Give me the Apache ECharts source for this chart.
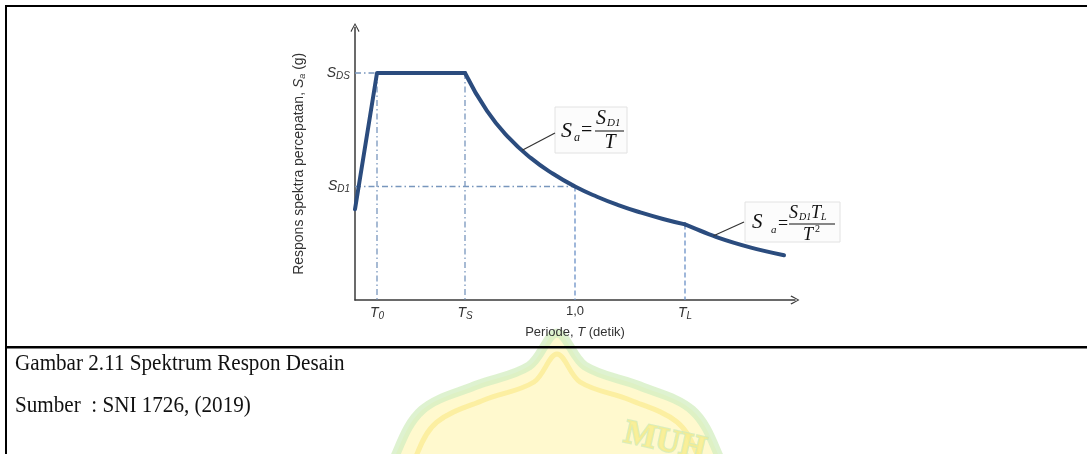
<!DOCTYPE html>
<html>
<head>
<meta charset="utf-8">
<script src="https://cdn.jsdelivr.net/npm/echarts@6/dist/echarts.min.js"></script>
<style>
html,body{margin:0;padding:0;background:#fff;}
#chart{width:1087px;height:454px;}
</style>
</head>
<body>
<div id="chart"></div>
<script>
// ---- data ----
const rampPeriods = [0, 0.1, 0.5];
const rampValues = [0.4, 1.0, 1.0];
const velocityPeriods = [0.5, 0.6, 0.7, 0.8, 0.9, 1.0, 1.1, 1.2, 1.3, 1.4, 1.5];
const velocityValues = [1.0, 0.833, 0.714, 0.625, 0.556, 0.5, 0.455, 0.417, 0.385, 0.357, 0.333];
const longPeriods = [1.5, 1.65, 1.8, 1.95];
const longValues = [0.333, 0.275, 0.231, 0.197];
const xTickValues = [0.1, 0.5, 1.0, 1.5];
const xTickLabels = ['{t|T}{s|0}', '{t|T}{s|S}', '{n|1,0}', '{t|T}{s|L}'];
const yTickValues = [0.5, 1.0];
const yTickLabels = ['{t|S}{s|D1}', '{t|S}{s|DS}'];
const T0 = 0.1, TS = 0.5, T1 = 1.0, TL = 1.5;
const SDS = 1.0, SD1 = 0.5, SaTL = 0.333;
const captionLines = ['Gambar 2.11 Spektrum Respon Desain', 'Sumber  : SNI 1726, (2019)'];

const chart = echarts.init(document.getElementById('chart'), null, {renderer: 'canvas'});
const chevron = 'path://M0,9 L5,0 L10,9 L9,10 L5,2 L1,10 Z';
const dashDot = [6, 3, 1.5, 3];
const guideColor = '#7896bd';
const dashColor = '#6a90c6';
const curveColor = '#2b4c7e';
const sans = 'Liberation Sans';

function guide(pts, type, color) {
  return {type: 'line', data: pts, symbol: 'none', silent: true, z: 2,
    lineStyle: {color: color, width: 1.3, type: type}};
}
function branch(xs, ys, smooth) {
  return {type: 'line', z: 5, symbol: 'none', smooth: smooth,
    data: xs.map((t, i) => [t, ys[i]]),
    lineStyle: {color: curveColor, width: 4, join: 'round', cap: 'round'}};
}

const option = {
  animation: false,
  backgroundColor: '#fff',
  grid: {left: 355, right: 292, top: 27.6, bottom: 154, containLabel: false},
  xAxis: {
    type: 'value', min: 0, max: 2.0,
    name: '{n|Periode, }{i|T}{n| (detik)}', nameLocation: 'middle', nameGap: 19,
    nameTextStyle: {rich: {
      n: {fontFamily: sans, fontSize: 13, color: '#333'},
      i: {fontFamily: sans, fontStyle: 'italic', fontSize: 13, color: '#333'}}},
    axisLine: {show: true, symbol: ['none', chevron], symbolSize: [9, 10],
      lineStyle: {color: '#3a3a3a', width: 1.5}},
    axisTick: {show: false},
    splitLine: {show: false},
    axisLabel: {
      customValues: xTickValues, margin: 5,
      formatter: function (v) { return xTickLabels[xTickValues.indexOf(v)] || ''; },
      rich: {
        t: {fontFamily: sans, fontStyle: 'italic', fontSize: 14, color: '#333'},
        s: {fontFamily: sans, fontStyle: 'italic', fontSize: 10, color: '#333', padding: [6, 0, 0, 0]},
        n: {fontFamily: sans, fontSize: 13, color: '#333'}
      }
    }
  },
  yAxis: {
    type: 'value', min: 0, max: 1.2,
    name: '{n|Respons spektra percepatan, }{i|S}{sub|a}{n| (g)}', nameLocation: 'middle', nameGap: 48, nameRotate: 90,
    nameTextStyle: {rich: {
      n: {fontFamily: sans, fontSize: 14, color: '#333'},
      i: {fontFamily: sans, fontStyle: 'italic', fontSize: 14, color: '#333'},
      sub: {fontFamily: sans, fontStyle: 'italic', fontSize: 9, color: '#333', padding: [6, 0, 0, 0]}}},
    axisLine: {show: true, symbol: ['none', chevron], symbolSize: [9, 10],
      lineStyle: {color: '#3a3a3a', width: 1.5}},
    axisTick: {show: false},
    splitLine: {show: false},
    axisLabel: {
      customValues: yTickValues, margin: 5,
      formatter: function (v) { return yTickLabels[yTickValues.indexOf(v)] || ''; },
      rich: {
        t: {fontFamily: sans, fontStyle: 'italic', fontSize: 14, color: '#333'},
        s: {fontFamily: sans, fontStyle: 'italic', fontSize: 10, color: '#333', padding: [6, 0, 0, 0]}
      }
    }
  },
  series: [
    guide([[0, SDS], [T0, SDS]], dashDot, guideColor),
    guide([[T0, SDS], [T0, 0]], dashDot, guideColor),
    guide([[TS, SDS], [TS, 0]], dashDot, guideColor),
    guide([[0, SD1], [T1, SD1]], dashDot, guideColor),
    guide([[T1, SD1], [T1, 0]], [5, 3], dashColor),
    guide([[TL, SaTL], [TL, 0]], [5, 3], dashColor),
    branch(rampPeriods, rampValues, false),
    branch(velocityPeriods, velocityValues, 0.5),
    branch(longPeriods, longValues, 0.3)
  ]
};
chart.setOption(option);

// ---- annotations (formula boxes), leader lines anchored to the curve ----
const serif = 'Liberation Serif';
function txt(x, y, s, size, italic, align) {
  return {type: 'text', x: x, y: y, z: 20, style: {text: s, fontFamily: serif, fontSize: size,
    fontStyle: italic ? 'italic' : 'normal', fill: '#111', align: align || 'left', verticalAlign: 'middle'}};
}
const p1 = chart.convertToPixel({gridIndex: 0}, [0.76, 0.66]);
const p2 = chart.convertToPixel({gridIndex: 0}, [1.63, 0.283]);

const graphics = [
  // watermark dome
  {type: 'polygon', z: 0, shape: {smooth: 0.35, points: [[557,333],[585,366],[640,386],[692,410],[718,454],[722,480],[392,480],[396,454],[422,410],[474,386],[529,366]]},
    style: {fill: '#fff7bd', stroke: '#d3edc0', lineWidth: 9, opacity: 0.75}},
  {type: 'polygon', z: 0, shape: {smooth: 0.35, points: [[557,354],[580,382],[630,400],[677,422],[697,454],[700,480],[414,480],[417,454],[437,422],[484,400],[534,382]]},
    style: {fill: 'none', stroke: '#fbeb92', lineWidth: 5, opacity: 0.75}},
  {type: 'text', z: 0, x: 665, y: 442, rotation: -0.22, style: {text: 'MUH', fontFamily: serif, fontWeight: 'bold', fontSize: 34, fill: '#f8ec8c', stroke: '#cfeab9', lineWidth: 2, align: 'center', verticalAlign: 'middle', opacity: 0.8}},
  // page frame (table lines)
  {type: 'rect', z: 1, shape: {x: 5, y: 5, width: 1100, height: 2}, style: {fill: '#000'}},
  {type: 'rect', z: 1, shape: {x: 5, y: 5, width: 2, height: 460}, style: {fill: '#000'}},
  {type: 'rect', z: 1, shape: {x: 5, y: 346, width: 1100, height: 2.5}, style: {fill: '#000'}},
  // captions
  {type: 'text', z: 10, x: 15, y: 364, scaleX: 0.88, style: {text: captionLines[0], fontFamily: serif, fontSize: 24, fill: '#111', verticalAlign: 'middle'}},
  {type: 'text', z: 10, x: 15, y: 406, scaleX: 0.88, style: {text: captionLines[1], fontFamily: serif, fontSize: 24, fill: '#111', verticalAlign: 'middle'}},
  // leader lines
  {type: 'line', z: 15, shape: {x1: p1[0], y1: p1[1], x2: 555, y2: 133}, style: {stroke: '#333', lineWidth: 1.2}},
  {type: 'line', z: 15, shape: {x1: p2[0], y1: p2[1], x2: 744, y2: 222}, style: {stroke: '#333', lineWidth: 1.2}},
  // formula box 1
  {type: 'rect', z: 12, shape: {x: 555, y: 107, width: 72, height: 46}, style: {fill: '#fcfcfc', stroke: '#e2e2e2', lineWidth: 1}},
  txt(561, 131, 'S', 22, true),
  txt(574, 138, 'a', 12, true),
  txt(581, 131, '=', 20, false),
  txt(596, 119, 'S', 20, true),
  txt(607, 123, 'D1', 11, true),
  {type: 'line', z: 20, shape: {x1: 595, y1: 131, x2: 624, y2: 131}, style: {stroke: '#111', lineWidth: 1}},
  txt(610, 143, 'T', 20, true, 'center'),
  // formula box 2
  {type: 'rect', z: 12, shape: {x: 745, y: 202, width: 95, height: 40}, style: {fill: '#fcfcfc', stroke: '#e2e2e2', lineWidth: 1}},
  txt(752, 222, 'S', 21, true),
  txt(771, 230, 'a', 11, true),
  txt(778, 224, '=', 18, false),
  txt(789, 213, 'S', 18, true),
  txt(799, 217, 'D1', 10, true),
  txt(811, 213, 'T', 18, true),
  txt(821, 217, 'L', 10, true),
  {type: 'line', z: 20, shape: {x1: 789, y1: 224, x2: 835, y2: 224}, style: {stroke: '#111', lineWidth: 1}},
  txt(803, 235, 'T', 18, true),
  txt(815, 229, '2', 10, false)
];
chart.setOption({graphic: graphics});
</script>
</body>
</html>
